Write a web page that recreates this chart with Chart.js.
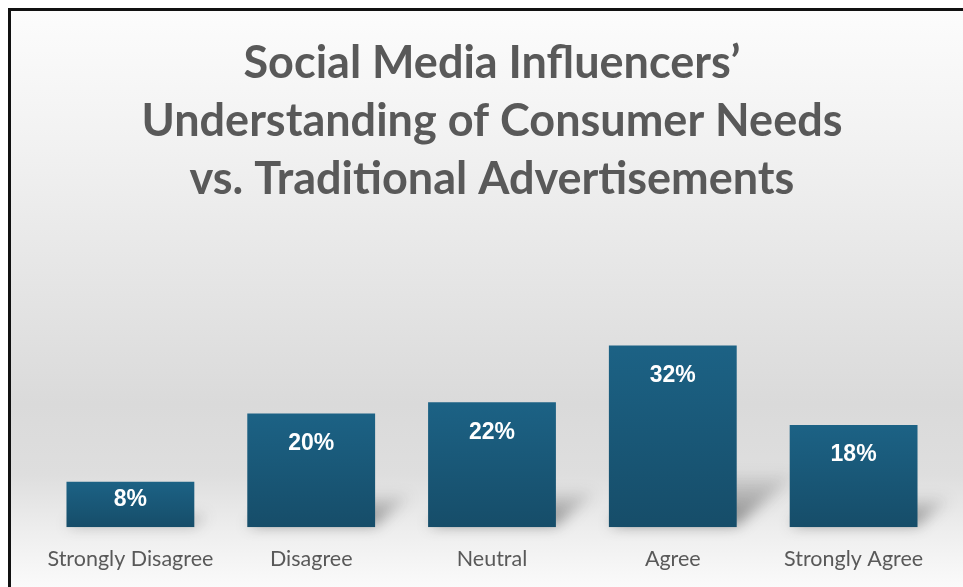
<!DOCTYPE html>
<html>
<head>
<meta charset="utf-8">
<style>
  html, body { margin: 0; padding: 0; background: #ffffff; overflow: hidden; }
  #frame {
    position: absolute;
    left: 8px;
    top: 8px;
    width: 955px;
    height: 579px;
    border-left: 3px solid #111111;
    border-top: 3px solid #111111;
    background: linear-gradient(to bottom, #fcfcfc 0%, #f3f3f3 20%, #e6e6e6 45%, #dadada 68%, #dedede 80%, #eeeeee 90%, #fbfbfb 100%);
  }
  #chart-box { position: relative; width: 952px; height: 576px; }
</style>
</head>
<body>
<div id="frame">
  <div id="chart-box">
    <canvas id="survey-chart"></canvas>
  </div>
</div>

<script src="https://cdn.jsdelivr.net/npm/chart.js@4.4.1/dist/chart.umd.min.js"></script>
<script>
  const categories = ["Strongly Disagree", "Disagree", "Neutral", "Agree", "Strongly Agree"];
  const shares = [8, 20, 22, 32, 18];
  const titleLines = [
    "Social Media Influencers\u2019",
    "Understanding of Consumer Needs",
    "vs. Traditional Advertisements"
  ];

  const barTop = "#1c6285";
  const barBottom = "#164d69";

  // vertical gradient per bar, from its top down to the baseline
  const barFill = (ctx) => {
    const chart = ctx.chart;
    const yScale = chart.scales.y;
    if (!chart.chartArea || !yScale || ctx.raw === undefined) return barBottom;
    const top = yScale.getPixelForValue(ctx.raw);
    const base = yScale.getPixelForValue(0);
    const g = chart.ctx.createLinearGradient(0, top, 0, base);
    g.addColorStop(0, barTop);
    g.addColorStop(1, barBottom);
    return g;
  };

  // soft slanted shadow cast up and to the right of each bar
  const barShadows = {
    id: 'barShadows',
    beforeDatasetsDraw(chart) {
      const c = chart.ctx;
      const bars = chart.getDatasetMeta(0).data;
      c.save();
      c.filter = 'blur(7px)';
      bars.forEach((bar) => {
        const h = bar.base - bar.y;
        const left = bar.x - bar.width / 2;
        const right = bar.x + bar.width / 2;
        const dx = h * 0.32;
        const dy = h * 0.28;
        const g = c.createLinearGradient(0, bar.base, 0, bar.base - dy);
        g.addColorStop(0, 'rgba(40,40,40,0.55)');
        g.addColorStop(1, 'rgba(40,40,40,0.08)');
        c.fillStyle = g;
        c.beginPath();
        c.moveTo(left, bar.base - 2);
        c.lineTo(right, bar.base - 2);
        c.lineTo(right + dx, bar.base - dy);
        c.lineTo(left + dx, bar.base - dy);
        c.closePath();
        c.fill();
      });
      c.restore();
    }
  };

  // percentage written near the top inside each bar
  const barValues = {
    id: 'barValues',
    afterDatasetsDraw(chart) {
      const c = chart.ctx;
      const bars = chart.getDatasetMeta(0).data;
      c.save();
      c.fillStyle = '#ffffff';
      c.font = 'bold 23px "Liberation Sans", Arial, sans-serif';
      c.textAlign = 'center';
      c.textBaseline = 'middle';
      bars.forEach((bar, i) => {
        const h = bar.base - bar.y;
        c.fillText(shares[i] + '%', bar.x, bar.y + Math.min(30, h * 0.4));
      });
      c.restore();
    }
  };

  const ctx = document.getElementById('survey-chart').getContext('2d');

  const chart = new Chart(ctx, {
    type: 'bar',
    data: {
      labels: categories,
      datasets: [
        {
          label: 'Share of respondents',
          data: shares,
          backgroundColor: barFill,
          borderWidth: 0,
          categoryPercentage: 1,
          barPercentage: 0.707
        }
      ]
    },
    options: {
      responsive: true,
      maintainAspectRatio: false,
      animation: false,
      layout: {
        padding: { top: 0, right: 19, bottom: -4, left: 29 }
      },
      plugins: {
        legend: { display: false },
        tooltip: { enabled: false },
        title: {
          display: true,
          text: titleLines,
          color: '#595959',
          font: { family: 'Lato', weight: 'bold', size: 45, lineHeight: '58px' },
          padding: { top: 23, bottom: 92 }
        }
      },
      scales: {
        x: {
          grid: { display: false, drawTicks: false },
          border: { display: false },
          ticks: {
            color: '#595959',
            padding: 19,
            font: { family: 'Lato', size: 21.5 }
          }
        },
        y: {
          display: false,
          min: 0,
          max: 40
        }
      }
    },
    plugins: [barShadows, barValues]
  });
</script>
</body>
</html>
